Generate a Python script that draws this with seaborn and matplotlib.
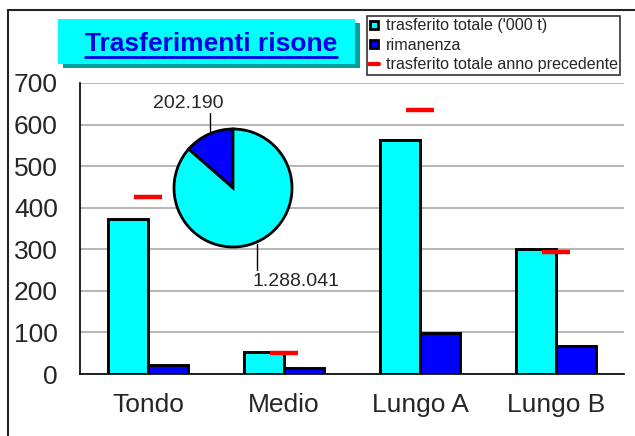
import numpy as np
import pandas as pd
import seaborn as sns
import matplotlib.pyplot as plt
from matplotlib.lines import Line2D
from matplotlib.patches import Rectangle

sns.set_style("white")
plt.rcParams['font.family'] = ['Liberation Sans', 'DejaVu Sans']

# Data
categories = ["Tondo", "Medio", "Lungo A", "Lungo B"]
trasferito = [374, 52, 562, 300]
rimanenza = [22, 14, 98, 68]
anno_precedente = [425, 50, 635, 294]
pie_values = [202190, 1288041]
pie_labels = ["202.190", "1.288.041"]

series_names = ["trasferito totale ('000 t)", "rimanenza"]
df = pd.DataFrame({
    "Categoria": categories * 2,
    "Serie": [series_names[0]] * 4 + [series_names[1]] * 4,
    "Valore": trasferito + rimanenza,
})

W, H = 635, 436
fig = plt.figure(figsize=(W / 100, H / 100), dpi=100)
ax = fig.add_axes([80 / W, 1 - 374 / H, 544 / W, 291 / H])

sns.barplot(data=df, x="Categoria", y="Valore", hue="Serie", order=categories,
            palette=["#00ffff", "#0000ff"], saturation=1, width=0.59, gap=0,
            edgecolor="black", linewidth=2.1, legend=False, ax=ax, zorder=3)

# previous year: short red dash at each category centre
xs = np.arange(len(categories))
ax.hlines(anno_precedente, xs - 0.1, xs + 0.1, colors="#ff0000", linewidth=3.2, zorder=4)

ax.set_xlim(-0.5, len(categories) - 0.5)
ax.set_ylim(0, 700)
ax.set_yticks(range(0, 701, 100))
ax.yaxis.grid(True, color="#b0b0b0", linewidth=1.3, zorder=0)
ax.set_axisbelow(True)
ax.set_xlabel("")
ax.set_ylabel("")
ax.tick_params(axis="y", length=0, pad=16, labelsize=19)
ax.tick_params(axis="x", length=0, pad=14, labelsize=19)
for s in ["top", "right"]:
    ax.spines[s].set_visible(False)
for s in ["left", "bottom"]:
    ax.spines[s].set_color("black")
    ax.spines[s].set_linewidth(1.2)

# pie inset
pax = fig.add_axes([(233 - 62) / W, 1 - (188 + 62) / H, 124 / W, 124 / H])
pax.pie(pie_values, colors=["#0000ff", "#00ffff"], startangle=90,
        wedgeprops=dict(edgecolor="black", linewidth=2), radius=59 / 62)
pax.set_xlim(-1, 1)
pax.set_ylim(-1, 1)
pax.set_aspect("equal")
pax.axis("off")
fig.add_artist(Line2D([210 / W, 210 / W], [1 - 113 / H, 1 - 133 / H], color="black", lw=1))
fig.add_artist(Line2D([257 / W, 257 / W], [1 - 244 / H, 1 - 270 / H], color="black", lw=1))
fig.text(188 / W, 1 - 103 / H, pie_labels[0], fontsize=14, ha="center", va="center")
fig.text(296 / W, 1 - 281 / H, pie_labels[1], fontsize=14, ha="center", va="center")

# title box with shadow
fig.add_artist(Rectangle((63 / W, 1 - 68 / H), 297 / W, 45 / H, facecolor="#00a0a0",
                         edgecolor="none", transform=fig.transFigure))
fig.add_artist(Rectangle((58 / W, 1 - 64 / H), 297 / W, 45 / H, facecolor="#00ffff",
                         edgecolor="none", transform=fig.transFigure))
title = fig.text(211 / W, 1 - 44 / H, "Trasferimenti risone", fontsize=19,
                 fontweight="bold", color="#0000e6", ha="center", va="center")
fig.canvas.draw()
bb = title.get_window_extent().transformed(fig.transFigure.inverted())
fig.add_artist(Line2D([bb.x0, bb.x1], [1 - 57 / H, 1 - 57 / H], color="#0000e6", lw=2))

# legend
handles = [
    Line2D([], [], linestyle="none", marker="s", markersize=6, markerfacecolor="#00ffff",
           markeredgecolor="black", markeredgewidth=2),
    Line2D([], [], linestyle="none", marker="s", markersize=6, markerfacecolor="#0000ff",
           markeredgecolor="black", markeredgewidth=2),
    Line2D([], [], color="#ff0000", lw=3),
]
labels = series_names + ["trasferito totale anno precedente"]
leg = fig.legend(handles, labels, loc="upper left", bbox_to_anchor=(367 / W, 1 - 16 / H),
                 fontsize=11.6, frameon=True, fancybox=False, edgecolor="black",
                 borderpad=0.15, labelspacing=0.28, handlelength=0.6, handletextpad=0.4,
                 borderaxespad=0)
leg.get_frame().set_linewidth(1.2)

# outer frame
fig.add_artist(Line2D([8 / W, 8 / W], [0, 1 - 10 / H], color="#222222", lw=1.5))
fig.add_artist(Line2D([8 / W, 1], [1 - 10 / H, 1 - 10 / H], color="#222222", lw=1.5))

fig.savefig("out.png", dpi=100)
